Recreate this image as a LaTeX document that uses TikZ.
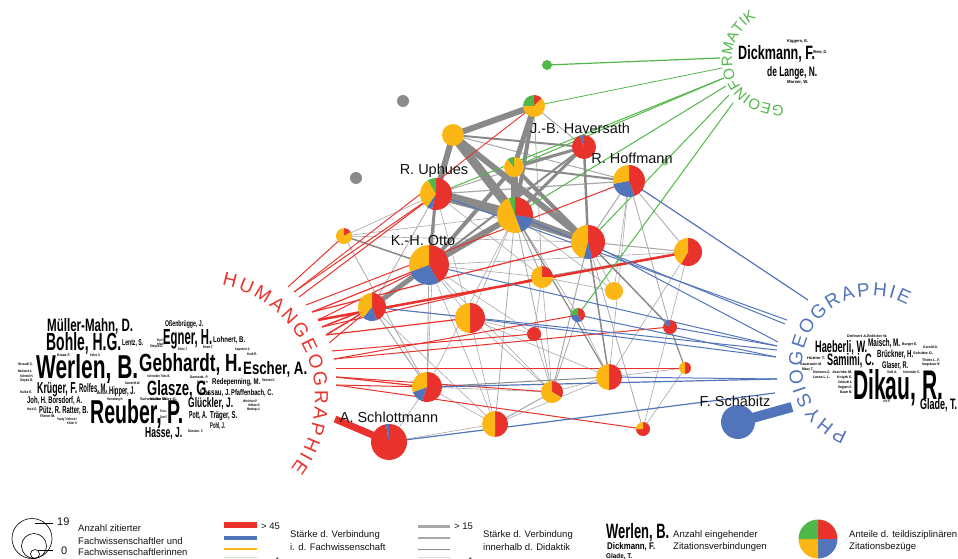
\documentclass[tikz,border=0pt]{standalone}
\usepackage{fontspec}
\usepackage{graphicx}
\setmainfont{Liberation Sans}
\usetikzlibrary{decorations.text}
\definecolor{cred}{HTML}{E8322B}
\definecolor{cblue}{HTML}{5274BA}
\definecolor{cyel}{HTML}{FDB714}
\definecolor{cgreen}{HTML}{50B848}
\definecolor{cgray}{HTML}{8A8A8A}
\definecolor{clgray}{HTML}{A8A8A8}
\definecolor{clgreen}{HTML}{8BD17C}
\definecolor{ctext}{HTML}{111111}

\newcommand\mk[4]{\node[circle,inner sep=0pt,minimum size=2*#4pt] (#1) at (#2,#3) {};}
\newcommand\pie[6]{%
 \begin{scope}[shift={(#1.center)}]
  \pgfmathsetmacro\pa{-90}
  \pgfmathsetmacro\pb{-90+#3}
  \pgfmathsetmacro\pc{\pb+#4}
  \pgfmathsetmacro\pd{\pc+#5}
  \pgfmathsetmacro\pe{\pd+#6}
  \ifdim #3pt>0pt \fill[cred] (0,0) -- (\pa:#2) arc[start angle=\pa,end angle=\pb,radius=#2] -- cycle;\fi
  \ifdim #4pt>0pt \fill[cblue] (0,0) -- (\pb:#2) arc[start angle=\pb,end angle=\pc,radius=#2] -- cycle;\fi
  \ifdim #5pt>0pt \fill[cyel] (0,0) -- (\pc:#2) arc[start angle=\pc,end angle=\pd,radius=#2] -- cycle;\fi
  \ifdim #6pt>0pt \fill[cgreen] (0,0) -- (\pd:#2) arc[start angle=\pd,end angle=\pe,radius=#2] -- cycle;\fi
 \end{scope}}
\newcommand\cw[6]{\node[cloud] (#1) at (#2,#3) {\resizebox{#4pt}{#5pt}{#6}};}

\tikzset{
 cloud/.style={anchor=base west,inner sep=0pt,font=\bfseries,text=black},
 lab/.style={inner sep=0pt,font=\fontsize{14.5}{16}\selectfont,text=ctext},
 leg/.style={anchor=west,inner sep=0pt,font=\fontsize{9.5}{11}\selectfont,text=ctext},
}

\begin{document}
\begin{tikzpicture}[x=1pt,y=-1pt]
\useasboundingbox (0,0) rectangle (958,559);

% ---------- network nodes (positions) ----------
\mk{g1}{403}{101}{6}
\mk{g2}{356}{178}{6}
\mk{gr1}{547}{65}{5}
\mk{gr2}{665}{162}{3.5}
\mk{n1}{534}{106}{11}
\mk{n2}{453}{135}{11}
\mk{hav}{584}{147}{12}
\mk{n3}{514}{167}{10}
\mk{uph}{436}{194}{16}
\mk{cen}{515}{215}{18}
\mk{hof}{629}{181}{16}
\mk{n4}{344}{236}{8}
\mk{otto}{429}{265}{20}
\mk{n5}{588}{242}{17}
\mk{n6}{688}{252}{14}
\mk{n7}{542}{277}{11}
\mk{n8}{614}{291}{9}
\mk{n9}{372}{307}{14}
\mk{n10}{470}{318}{15}
\mk{n11}{534}{334}{7}
\mk{n12}{578}{315}{7}
\mk{n13}{670}{327}{7}
\mk{n14}{427}{387}{15}
\mk{n15}{552}{392}{11}
\mk{n16}{609}{377}{13}
\mk{n17}{685}{368}{6}
\mk{n18}{495}{424}{13}
\mk{n19}{643}{429}{7}
\mk{sch}{389}{442}{18}
\mk{sab}{738}{422}{17}

% ---------- connector ends on the arcs ----------
\coordinate (h1) at (288,287);
\coordinate (h2) at (294,292);
\coordinate (h3) at (299,297);
\coordinate (h4) at (306,305);
\coordinate (h5) at (312,312);
\coordinate (h6) at (318,320);
\coordinate (h7) at (322,327);
\coordinate (h8) at (326,335);
\coordinate (h9) at (329,343);
\coordinate (h10) at (332,351);
\coordinate (h11) at (334,359);
\coordinate (h12) at (336,368);
\coordinate (h13) at (336,377);
\coordinate (h14) at (336,385);
\coordinate (h15) at (335,419);
\coordinate (p1) at (808,300);
\coordinate (p2) at (787,320);
\coordinate (p3) at (785,324);
\coordinate (p4) at (778,342);
\coordinate (p5) at (777,346);
\coordinate (p6) at (777,350);
\coordinate (p7) at (776,357);
\coordinate (p8) at (777,379);
\coordinate (p9) at (775,393);
\coordinate (p10) at (792,407);
\coordinate (q1) at (720,58);
\coordinate (q2) at (722,68);
\coordinate (q3) at (724,78);
\coordinate (q4) at (726,86);
\coordinate (q5) at (729,95);
\coordinate (q6) at (733,103);

% ---------- connectors ----------
\foreach \a/\b/\w in {n2/hof/1, uph/hav/1, uph/hof/1.2, n1/hav/1, n1/n7/0.7, hof/n5/1, hof/n6/0.8,
 hof/n8/0.6, hof/n13/0.8, hof/n16/0.6, uph/n4/0.6, uph/n9/0.8, uph/n10/0.6, uph/n14/0.6, uph/n7/0.6,
 n4/n14/0.8, n4/cen/0.6, n4/n5/0.6, otto/n14/0.8, otto/n10/0.6, otto/n18/0.6, otto/n7/0.6,
 otto/n15/0.6, otto/n11/0.6, otto/n6/0.6, cen/n10/0.6, cen/n18/0.8, cen/n14/0.6, cen/n7/1, cen/n15/0.8,
 cen/n12/0.6, cen/n8/0.6, n5/n15/1, n5/n8/0.6, n5/n6/1, n5/n19/0.8, n6/n16/0.6,
 n6/n19/0.6, n6/n7/1, n17/n19/0.6, n9/n14/1, n9/n10/0.6, n9/n18/0.6, n10/n15/0.6, n10/n18/0.6,
 n10/n16/0.6, n10/n11/0.6, n14/n18/0.6, n14/n15/0.6, n14/sch/0.6, n15/n18/1, n15/n16/0.6,
 n15/n11/0.6, n15/n7/0.6, n16/n18/0.6, n16/n17/0.6, n16/n12/0.6, n18/sch/0.6, n7/n11/0.6, n7/n8/0.6,
 n12/n15/0.8}
 \draw[clgray,line width=\w pt] (\a.center) -- (\b.center);
\foreach \a/\b/\w in {n1/n2/6, n1/n3/5, n1/cen/4, n2/uph/6, n2/cen/9, n2/n5/6, uph/cen/10, uph/n5/5,
 n3/cen/7, n3/n5/4, cen/n5/6, otto/cen/6, otto/n3/4, otto/n9/5, hav/n3/3, hav/cen/3, hav/n2/2,
 n3/hof/2, hav/otto/2, uph/otto/3, hav/n5/2.5, n4/otto/1.5, n5/n16/1.5, n5/n13/1.5, n13/n17/1.2,
 n14/n16/1, cen/n16/1.2}
 \draw[cgray,line width=\w pt] (\a.center) -- (\b.center);
\foreach \a/\b/\w in {n4/h1/1, n1/h2/0.9, uph/h2/1, uph/h3/1, hof/h4/1, n5/h5/1.2, otto/h5/1.2,
 otto/h6/1, n6/h6/2.5, n7/h7/1, n9/h7/1.5, n9/h8/1.5, n10/h8/1.2, n9/h9/1, n11/h10/1, n12/h11/1,
 n13/h11/1, n17/h12/1, n15/h13/1, n14/h13/1.2, n14/h14/1, n19/h14/1, sch/h15/7}
 \draw[cred,line width=\w pt] (\a.center) -- (\b);
\foreach \a/\b/\w in {hof/p1/1.2, uph/p2/1, cen/p3/1, n5/p4/1, otto/p5/1, n13/p5/1, n9/p6/1,
 n10/p7/1, n12/p7/1, n14/p8/1.2, n16/p8/1, sch/p9/1.2, sab/p10/10}
 \draw[cblue,line width=\w pt] (\a.center) -- (\b);
\foreach \a/\b/\w in {gr1/q1/1.2, n1/q2/0.8, uph/q3/1, n3/q3/1, cen/q4/1, n5/q5/1, n12/q6/1}
 \draw[cgreen,line width=\w pt] (\a.center) -- (\b);

% ---------- pies ----------
\fill[cgray] (g1.center) circle[radius=6];
\fill[cgray] (g2.center) circle[radius=6];
\fill[cgreen] (gr1.center) circle[radius=5];
\fill[clgreen] (gr2.center) circle[radius=3.5];
\pie{n1}{11}{45}{0}{225}{90}
\pie{n2}{11}{0}{0}{360}{0}
\pie{hav}{12}{340}{20}{0}{0}
\pie{n3}{10}{0}{0}{320}{40}
\pie{uph}{16}{195}{20}{115}{30}
\pie{cen}{18}{100}{60}{180}{20}
\pie{hof}{16}{160}{100}{100}{0}
\pie{n4}{8}{60}{0}{300}{0}
\pie{otto}{20}{150}{100}{110}{0}
\pie{n5}{17}{165}{30}{165}{0}
\pie{n6}{14}{210}{0}{150}{0}
\pie{n7}{11}{90}{0}{270}{0}
\pie{n8}{9}{0}{0}{360}{0}
\pie{n9}{14}{160}{60}{140}{0}
\pie{n10}{15}{180}{0}{180}{0}
\pie{n11}{7}{360}{0}{0}{0}
\pie{n12}{7}{150}{120}{0}{90}
\pie{n13}{7}{300}{60}{0}{0}
\pie{n14}{15}{200}{50}{110}{0}
\pie{n15}{11}{120}{0}{240}{0}
\pie{n16}{13}{180}{0}{180}{0}
\pie{n17}{6}{180}{0}{180}{0}
\pie{n18}{13}{180}{0}{180}{0}
\pie{n19}{7}{270}{0}{90}{0}
\pie{sch}{18}{350}{10}{0}{0}
\pie{sab}{17}{0}{360}{0}{0}

% ---------- labels ----------
\node[lab] (lhav) at (580,128) {J.-B. Haversath};
\node[lab] (lhof) at (632,158) {R. Hoffmann};
\node[lab] (luph) at (434,171) {R. Uphues};
\node[lab] (lotto) at (423,241) {K.-H. Otto};
\node[lab] (lsch) at (389,417) {A. Schlottmann};
\node[lab] (lsab) at (735,401) {F. Schäbitz};

% ---------- arc titles ----------
\path[decorate,decoration={text along path,text align=fit to path,
 text={|\fontsize{19}{20}\selectfont\color{cred}|HUMANGEOGRAPHIE}}]
 ([shift={(-79:115)}]200,398) arc[start angle=-79,end angle=38,radius=115];
\path[decorate,decoration={text along path,text align=fit to path,
 text={|\fontsize{19}{20}\selectfont\color{cblue}|PHYSIOGEOGRAPHIE}}]
 ([shift={(110:70)}]872,366) arc[start angle=110,end angle=300,radius=70];
\path[decorate,decoration={text along path,text align=fit to path,
 text={|\fontsize{15}{16}\selectfont\color{cgreen}|GEOINFORMATIK}}]
 ([shift={(83:46)}]778,59) arc[start angle=83,end angle=242,radius=46];

% ---------- left word cloud ----------
\cw{L1}{47}{331}{86}{13}{Müller-Mahn, D.}
\cw{L2}{46}{350}{75}{18}{Bohle, H.G.}
\cw{L3}{122}{345}{21}{6}{Lentz, S.}
\cw{L4}{36}{378}{102}{24}{Werlen, B.}
\cw{L5}{139}{371}{103}{18}{Gebhardt, H.}
\cw{L6}{243}{374}{64}{13}{Escher, A.}
\cw{L7}{37}{393}{40}{11}{Krüger, F.}
\cw{L8}{79}{392}{28}{9}{Rolfes, M.}
\cw{L9}{109}{394}{26}{8}{Hipper, J.}
\cw{L10}{147}{395}{63}{15}{Glasze, G.}
\cw{L11}{27}{403}{55}{7}{Joh, H. Borsdorf, A.}
\cw{L12}{39}{413}{49}{7}{Pütz, R. Ratter, B.}
\cw{L13}{90}{423}{93}{24}{Reuber, P.}
\cw{L14}{145}{437}{37}{10}{Hasse, J.}
\cw{L15}{188}{407}{45}{10}{Glückler, J.}
\cw{L16}{189}{418}{18}{7}{Pott, A.}
\cw{L17}{210}{418}{27}{7}{Träger, S.}
\cw{L18}{210}{428}{15}{6}{Pohl, J.}
\cw{L19}{212}{384}{48}{6}{Redepenning, M.}
\cw{L20}{200}{395}{30}{6}{Lossau, J.}
\cw{L21}{231}{395}{42}{6}{Pfaffenbach, C.}
\cw{L22}{163}{344}{49}{15}{Egner, H.}
\cw{L23}{213}{342}{32}{6}{Lohnert, B.}
\cw{L24}{165}{326}{38}{6}{Oßenbrügge, J.}
% tiny
\foreach \i/\x/\y/\w/\t in {a/18/365/15/Strauß C., b/18/372/14/Mattissek A., c/20/377/13/Schmid H., d/20/381/13/Soyez D.,
 e/20/393/12/Kulke E., f/27/410/10/Hard G., g/40/417/15/Flitner M., h/57/420/20/Freytag T. Helbrecht I., i/67/424/10/Klüter H.,
 j/57/356/13/Kraas F., k/90/356/10/Kühne O., l/157/341/7/Mayer S., m/157/345/7/Hellen W., n/125/384/15/Gamerith W.,
 o/97/394/13/Kaltmann J., p/107/400/16/Heineberg H., q/140/400/37/Schneider Dörr G., r/147/377/23/Schneider Tites B.,
 s/160/412/7/Pries L., t/160/418/7/Gans P., u/150/347/13/Stoyan G., v/178/350/9/Brinks T., w/203/348/10/Bruns T.,
 x/235/350/15/Kagermeier A., y/247/355/10/Kraft R., z/190/378/18/Dannenb. P., A/197/383/11/Bathelt H., B/262/381/13/Reichert G.,
 C/243/402/14/Weichhart P., D/248/406/12/Hoffmann R., E/247/410/13/Wardenga U., F/188/432/15/Dünckm. F., G/150/400/17/Kulke W.}
 \cw{Lt\i}{\x}{\y}{\w}{2.6}{\t};

% ---------- right word cloud ----------
\cw{R1}{815}{352}{52}{12}{Haeberli, W.}
\cw{R2}{868}{346}{32}{8}{Maisch, M.}
\cw{R3}{827}{365}{47}{12}{Samimi, C.}
\cw{R4}{877}{357}{36}{7.5}{Brückner, H.}
\cw{R5}{882}{368}{26}{7}{Glaser, R.}
\cw{R6}{853}{399}{90}{30}{Dikau, R.}
\cw{R7}{920}{409}{37}{11}{Glade, T.}
\foreach \i/\x/\y/\w/\t in {a/847/337/20/Dehnert A., b/867/337/20/Endlicher W., c/902/345/15/Burger E., d/923/348/15/Gerold G.,
 e/913/354/20/Schütte G., f/922/361/18/Thiele L. F., g/922/365/18/Neugebauer M., h/887/373/10/Vott A., i/903/373/17/Schneider C.,
 j/883/402/7/Veit H., k/807/359/18/Hüttler T., l/800/365/22/Sauerwein M., m/802/370/11/Mäuy T., n/813/373/17/Dickmann G.,
 o/832/373/20/Jeschke M., p/813/378/17/Lucas L. L., q/837/378/15/Knigth S., r/838/383/14/Gebhardt A., s/838/388/14/Heggers G.,
 t/840/393/12/Bauer M.}
 \cw{Rt\i}{\x}{\y}{\w}{2.6}{\t};

% ---------- top right word cloud ----------
\cw{T1}{738}{59.5}{77}{14}{Dickmann, F.}
\cw{T2}{767}{77}{50}{10}{de Lange, N.}
\cw{T3}{787}{43}{21}{3}{Kiggers, E.}
\cw{T4}{813}{54}{14}{3}{Wenz, G.}
\cw{T5}{787}{84}{21}{3}{Marxer, W.}

% ---------- legend ----------
\node[circle,draw,inner sep=0pt,minimum size=40pt,line width=0.6pt] (lc1) at (32,538.5) {};
\node[circle,draw,inner sep=0pt,minimum size=25pt,line width=0.6pt] (lc2) at (34,546) {};
\node[circle,draw,inner sep=0pt,minimum size=9pt,line width=0.6pt] (lc3) at (35,554) {};
\draw[line width=0.6pt] (35,523) -- (53,523);
\draw[line width=0.6pt] (38,550) -- (53,550);
\node[leg,font=\fontsize{11}{12}\selectfont] (l19) at (57,522) {19};
\node[leg,font=\fontsize{11}{12}\selectfont] (l0) at (61,551) {0};
\node[leg] (la1) at (78,528) {Anzahl zitierter};
\node[leg] (la2) at (78,541) {Fachwissenschaftler und};
\node[leg] (la3) at (78,552) {Fachwissenschaftlerinnen};

\draw[cred,line width=6pt] (224,525) -- (257,525);
\draw[cblue,line width=4pt] (224,538) -- (257,538);
\draw[cyel,line width=2pt] (224,549) -- (257,549);
\draw[clgreen!50,line width=0.8pt] (224,557) -- (257,557);
\node[leg] (lg45) at (261,526) {> 45};
\node[leg] (lg1) at (275,561) {1};
\node[leg] (lb1) at (290,535) {Stärke d. Verbindung};
\node[leg] (lb2) at (290,547) {i. d. Fachwissenschaft};

\draw[clgray,line width=3pt] (418,526) -- (450,526);
\draw[clgray,line width=1.8pt] (418,537.7) -- (450,537.7);
\draw[cgray,line width=0.8pt] (418,549) -- (450,549);
\draw[clgray!40,line width=0.6pt] (418,557) -- (450,557);
\node[leg] (lg15) at (454,526) {> 15};
\node[leg] (lg1b) at (468,561) {1};
\node[leg] (lc1t) at (483,535) {Stärke d. Verbindung};
\node[leg] (lc2t) at (483,547) {innerhalb d. Didaktik};

\cw{W1}{606}{538}{63}{15}{Werlen, B.}
\cw{W2}{607}{549.5}{48}{7}{Dickmann, F.}
\cw{W3}{606}{558}{26}{5}{Glade, T.}
\node[leg] (ld1) at (673,535) {Anzahl eingehender};
\node[leg] (ld2) at (673,547) {Zitationsverbindungen};

\mk{lp}{818}{539}{19.5}
\pie{lp}{19.5}{90}{90}{90}{90}
\node[leg] (le1) at (849,535) {Anteile d. teildisziplinären};
\node[leg] (le2) at (849,547) {Zitationsbezüge};
\end{tikzpicture}
\end{document}
